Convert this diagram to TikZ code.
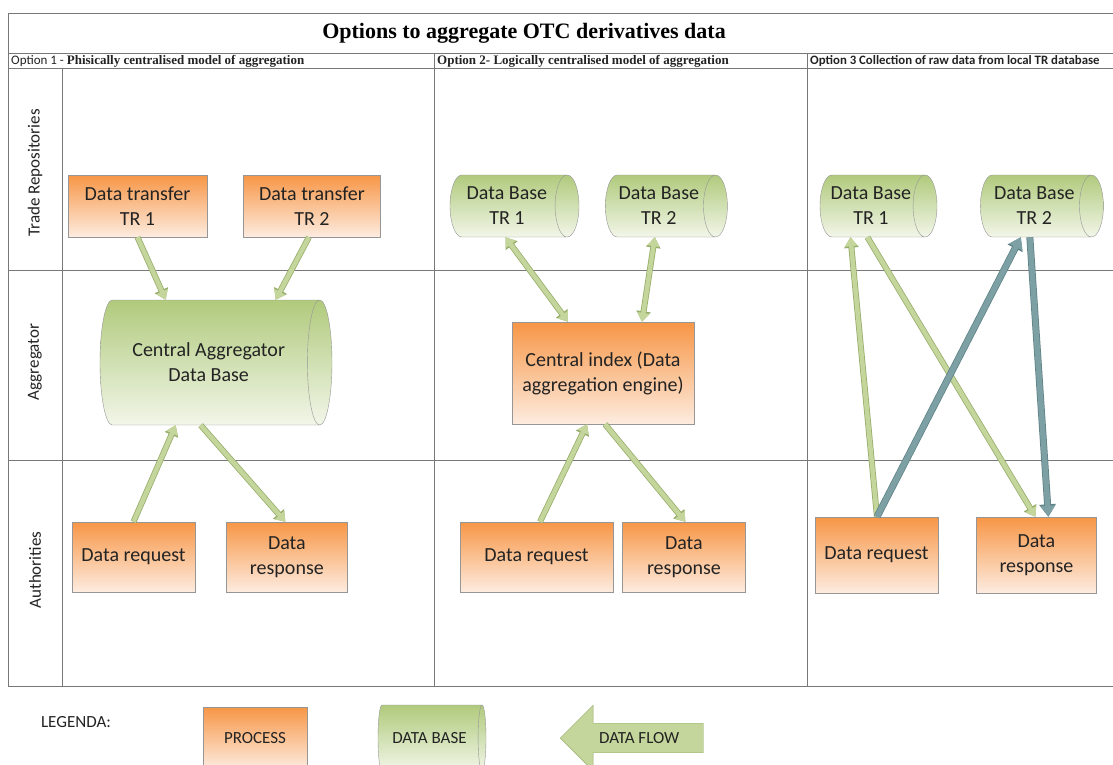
\documentclass[tikz,border=0pt]{standalone}
\usepackage{fontspec}
\setmainfont{Carlito}
\newfontfamily\serifbf{Liberation Serif}[BoldFont={Liberation Serif Bold}]
\usepackage{tikz}
\usetikzlibrary{shapes.geometric, shapes.arrows, arrows.meta, positioning}
\usepackage{xcolor}
\definecolor{procorange}{RGB}{247,150,70}
\definecolor{procpale}{RGB}{253,236,224}
\definecolor{dbgreen}{RGB}{176,202,124}
\definecolor{dbpale}{RGB}{242,246,233}
\definecolor{edgegray}{RGB}{150,150,150}
\definecolor{gridgray}{RGB}{120,120,120}
\definecolor{flowgreen}{RGB}{196,214,155}
\definecolor{flowedge}{RGB}{150,172,105}
\definecolor{flowteal}{RGB}{125,160,165}
\definecolor{tealedge}{RGB}{95,130,135}
\definecolor{inkdark}{RGB}{35,35,35}
\newcommand{\boxfont}{\fontsize{20}{25}\selectfont}
\newcommand{\lanefont}{\fontsize{17}{20}\selectfont}
\newcommand{\keyfont}{\fontsize{17}{20}\selectfont}

\begin{document}
\begin{tikzpicture}[
    x=1pt, y=-1pt,
    proc/.style={rectangle, draw=edgegray, top color=procorange, bottom color=procpale, text=inkdark, font=\boxfont, align=center, inner sep=2pt},
    dbase/.style={cylinder, draw=edgegray, top color=dbgreen, bottom color=dbpale, text=inkdark, font=\boxfont, align=center, aspect=0.6, inner sep=1pt, anchor=shape center},
    lane/.style={rotate=90, font=\lanefont, text=inkdark},
    head/.style={anchor=west, font=\fontsize{13}{15}\selectfont, inner sep=0pt, text=inkdark},
    grid/.style={draw=gridgray, line width=0.8pt},
    flow/.style={line width=4.5pt, draw=flowgreen, -{Triangle[length=9pt,width=12pt]}, preaction={draw=flowedge, line width=6pt, -{Triangle[length=10.5pt,width=14pt]}}},
    flowboth/.style={line width=4.5pt, draw=flowgreen, {Triangle[length=9pt,width=12pt]}-{Triangle[length=9pt,width=12pt]}, preaction={draw=flowedge, line width=6pt, {Triangle[length=10.5pt,width=14pt]}-{Triangle[length=10.5pt,width=14pt]}}},
    flowteal/.style={line width=5.5pt, draw=flowteal, -{Triangle[length=11pt,width=14pt]}, preaction={draw=tealedge, line width=7pt, -{Triangle[length=12.5pt,width=16pt]}}},
    keyflow/.style={single arrow, shape border rotate=180, draw=flowedge, fill=flowgreen, font=\keyfont, text=inkdark, minimum height=143pt, single arrow head extend=18pt, inner ysep=9pt}
]
\fill[white] (0,0) rectangle (1113,764);
\useasboundingbox (0,0) rectangle (1113,764);

% frame and lanes
\draw[grid] (8,13) rectangle (1125,686);
\draw[grid] (8,53) -- (1125,53);
\draw[grid] (8,68) -- (1125,68);
\draw[grid] (8,270) -- (1125,270);
\draw[grid] (8,460) -- (1125,460);
\draw[grid] (62,68) -- (62,686);
\draw[grid] (434,53) -- (434,686);
\draw[grid] (807,53) -- (807,686);

\node[font=\serifbf\bfseries\fontsize{22}{26}\selectfont, text=black] (title) at (524,33) {Options to aggregate OTC derivatives data};
\node[head] (hd1) at (11,61) {Option 1 - \serifbf\bfseries Phisically centralised model of aggregation};
\node[head, font=\serifbf\bfseries\fontsize{13}{15}\selectfont] (hd2) at (437,61) {Option 2- Logically centralised model of aggregation};
\node[head, font=\bfseries\fontsize{12.8}{15}\selectfont] (hd3) at (810,61) {Option 3 Collection of raw data from local TR database};

\node[lane] (lanetr) at (35,173) {Trade Repositories};
\node[lane] (laneagg) at (35,362) {Aggregator};
\node[lane] (laneauth) at (35,570) {Authorities};

% option 1
\node[proc, minimum width=139pt, minimum height=62pt] (tr1) at (137.5,206) {Data transfer\\TR 1};
\node[proc, minimum width=137pt, minimum height=62pt, right=36pt of tr1] (tr2) {Data transfer\\TR 2};
\node[dbase, minimum height=232pt, minimum width=125pt] (cad) at (216,362.5) {Central Aggregator\\Data Base};
\node[proc, minimum width=123pt, minimum height=70pt] (req1) at (133.5,557) {Data request};
\node[proc, minimum width=121pt, minimum height=70pt, right=31pt of req1] (resp1) {Data\\response};

% option 2
\node[dbase, minimum height=129pt, minimum width=62pt] (db1) at (514.5,206) {Data Base\\TR 1};
\node[dbase, minimum height=122pt, minimum width=62pt, right=26pt of db1] (db2) {Data Base\\TR 2};
\node[proc, minimum width=182pt, minimum height=102pt] (cidx) at (603,373) {Central index (Data\\aggregation engine)};
\node[proc, minimum width=153pt, minimum height=70pt] (req2) at (536.5,557) {Data request};
\node[proc, minimum width=123pt, minimum height=70pt, right=9pt of req2] (resp2) {Data\\response};

% option 3
\node[dbase, minimum height=117pt, minimum width=62pt] (db3a) at (878.5,206) {Data Base\\TR 1};
\node[dbase, minimum height=123pt, minimum width=62pt, right=43pt of db3a] (db3b) {Data Base\\TR 2};
\node[proc, minimum width=123pt, minimum height=76pt] (req3) at (876.5,555) {Data request};
\node[proc, minimum width=120pt, minimum height=76pt, right=38pt of req3] (resp3) {Data\\response};

% flows
\draw[flow] (tr1.south) -- ([xshift=-43pt]cad.north);
\draw[flow] ([xshift=-3pt]tr2.south) -- ([xshift=67pt]cad.north);
\draw[flow] (req1.north) -- ([xshift=-33pt]cad.south);
\draw[flow] ([xshift=-8pt]cad.south) -- ([xshift=-1.5pt]resp1.north);

\draw[flowboth] ([xshift=-1.5pt]db1.south) -- ([xshift=-35pt]cidx.north);
\draw[flowboth] ([xshift=-4pt]db2.south) -- ([xshift=39pt]cidx.north);
\draw[flow] ([xshift=3.5pt]req2.north) -- ([xshift=-16pt]cidx.south);
\draw[flow] ([xshift=2pt]cidx.south) -- ([xshift=1.5pt]resp2.north);

\draw[flow] ([xshift=0.5pt]req3.north) -- ([xshift=-20.5pt]db3a.south);
\draw[flow] ([xshift=-3.5pt]db3a.south) -- ([xshift=-1pt]resp3.north);
\draw[flowteal] ([xshift=0.5pt]req3.north) -- ([xshift=-13.5pt]db3b.south);
\draw[flowteal] ([xshift=-4.5pt]db3b.south) -- ([xshift=12pt]resp3.north);

% legend
\node[font=\keyfont, text=inkdark] (legend) at (76,722) {LEGENDA:};
\node[proc, font=\keyfont, minimum width=104pt, minimum height=62pt] (keyproc) at (255,738) {PROCESS};
\node[dbase, font=\keyfont, minimum height=108pt, minimum width=66pt] (keydb) at (432,738) {DATA BASE};
\node[keyflow, anchor=tip] (keyarrow) at (560,738) {DATA FLOW};

\end{tikzpicture}
\end{document}
